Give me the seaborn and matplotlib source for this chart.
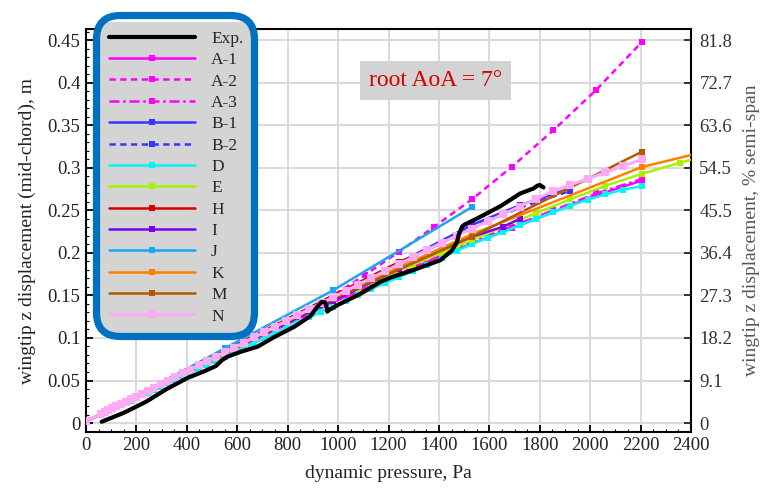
import matplotlib
matplotlib.use("Agg")
import matplotlib.pyplot as plt
import seaborn as sns
from matplotlib.patches import FancyBboxPatch
from matplotlib.ticker import MultipleLocator

# ---------------- data ----------------
q_grid = [0, 61, 74, 88, 104, 120, 138, 157, 177, 198, 221, 245, 270, 296, 324, 353, 383,
          414, 447, 480, 515, 551, 589, 627, 667, 708, 751, 794, 839, 885, 932, 980, 1030,
          1080, 1132, 1185, 1240, 1296, 1353, 1411, 1471, 1531, 1593, 1656, 1720, 1786,
          1853, 1921, 1990, 2060, 2132, 2205]

exp_q = [62, 150, 238, 320, 403, 470, 515, 540, 561, 614, 680, 746, 825, 891, 918, 935,
         948, 955, 957, 965, 1000, 1089, 1168, 1208, 1300, 1406, 1452, 1472, 1478, 1485,
         1492, 1500, 1564, 1644, 1723, 1775, 1790, 1800, 1815]
exp_z = [0.0015, 0.012, 0.025, 0.040, 0.053, 0.061, 0.067, 0.074, 0.078, 0.0838, 0.0897,
         0.101, 0.113, 0.126, 0.137, 0.1425, 0.142, 0.136, 0.131, 0.133, 0.139, 0.152,
         0.166, 0.171, 0.180, 0.1915, 0.203, 0.213, 0.221, 0.226, 0.231, 0.233, 0.2425,
         0.255, 0.270, 0.2758, 0.279, 0.280, 0.277]

a1_q = [0, 245, 551, 980, 1106, 1240, 1382, 1531, 1688, 1853, 2025, 2205]
a1_z = [0.002, 0.037, 0.081, 0.142, 0.158, 0.175, 0.193, 0.211, 0.229, 0.248, 0.268, 0.285]
a2_q = [0, 245, 551, 794, 980, 1106, 1240, 1382, 1531, 1688, 1853, 2025, 2205]
a2_z = [0.002, 0.038, 0.083, 0.121, 0.150, 0.174, 0.201, 0.231, 0.263, 0.301, 0.344, 0.392, 0.448]
a3_q = [0, 245, 551, 980, 1106, 1240, 1382, 1531, 1688, 1853, 2025, 2205]
a3_z = [0.002, 0.037, 0.082, 0.143, 0.160, 0.177, 0.195, 0.213, 0.231, 0.250, 0.270, 0.287]
b1_q = [0, 245, 551, 980, 1240, 1531, 1720, 1921]
b1_z = [0.002, 0.038, 0.084, 0.149, 0.188, 0.233, 0.256, 0.276]
b2_q = [0, 245, 551, 980, 1240, 1531, 1720, 1921]
b2_z = [0.002, 0.037, 0.083, 0.147, 0.186, 0.230, 0.253, 0.273]
d_z = [0.002, 0.0104, 0.0122, 0.0141, 0.0164, 0.0186, 0.021, 0.0237, 0.0264, 0.0293,
       0.0325, 0.0358, 0.0393, 0.0428, 0.0467, 0.0507, 0.0549, 0.0591, 0.0637, 0.0682,
       0.0731, 0.078, 0.0833, 0.0885, 0.094, 0.0997, 0.1056, 0.1116, 0.1178, 0.1241,
       0.1306, 0.137, 0.1437, 0.1505, 0.1576, 0.1645, 0.1713, 0.1783, 0.186, 0.194,
       0.2025, 0.2105, 0.2177, 0.2248, 0.2325, 0.2403, 0.248, 0.2555, 0.2628, 0.2688,
       0.2745, 0.2785]
e_q = [0, 245, 551, 980, 1080, 1185, 1296, 1411, 1531, 1656, 1786, 1921, 2060, 2205, 2355, 2509]
e_z = [0.002, 0.037, 0.081, 0.145, 0.158, 0.172, 0.186, 0.200, 0.215, 0.231, 0.247, 0.263,
       0.279, 0.293, 0.306, 0.318]
h_q = [0, 245, 551, 980, 1240, 1296]
h_z = [0.002, 0.039, 0.085, 0.150, 0.189, 0.196]
i_q = [0, 245, 551, 980, 1240, 1531, 1656, 1720]
i_z = [0.002, 0.037, 0.082, 0.144, 0.181, 0.219, 0.231, 0.240]
j_q = [0, 245, 551, 980, 1531]
j_z = [0.002, 0.039, 0.088, 0.156, 0.254]
k_q = [0, 245, 551, 980, 1531, 2205, 2509]
k_z = [0.002, 0.038, 0.084, 0.148, 0.222, 0.301, 0.323]
m_q = [0, 245, 551, 980, 1531, 2205]
m_z = [0.002, 0.038, 0.083, 0.146, 0.219, 0.319]
n_z = [0.002, 0.011, 0.0129, 0.0149, 0.0173, 0.0196, 0.0223, 0.0251, 0.028, 0.0311,
       0.0345, 0.038, 0.0417, 0.0455, 0.0496, 0.0539, 0.0583, 0.0629, 0.0677, 0.0726,
       0.0777, 0.083, 0.0888, 0.0945, 0.1006, 0.1068, 0.1133, 0.1198, 0.1266, 0.1336,
       0.1407, 0.148, 0.1554, 0.1628, 0.1706, 0.1784, 0.1866, 0.1949, 0.2034, 0.212,
       0.2203, 0.2285, 0.237, 0.2456, 0.2545, 0.2636, 0.2727, 0.280, 0.2873, 0.2947,
       0.3023, 0.310]

x_ticks = [0, 200, 400, 600, 800, 1000, 1200, 1400, 1600, 1800, 2000, 2200, 2400]
y_ticks = [0, 0.05, 0.1, 0.15, 0.2, 0.25, 0.3, 0.35, 0.4, 0.45]
y_labels = ["0", "0.05", "0.1", "0.15", "0.2", "0.25", "0.3", "0.35", "0.4", "0.45"]
y2_labels = ["0", "9.1", "18.2", "27.3", "36.4", "45.5", "54.5", "63.6", "72.7", "81.8"]

# ---------------- style ----------------
sns.set_theme(style="white")
plt.rcParams['font.family'] = ['Liberation Serif', 'DejaVu Serif']
plt.rcParams['axes.unicode_minus'] = False

W, H = 771, 488
fig = plt.figure(figsize=(W / 100, H / 100), dpi=100)
ax = fig.add_axes([86 / W, 1 - 431.7 / H, (691 - 86) / W, (431.7 - 29.3) / H])

dash = (0, (2.5, 1.8))
dashdot = (0, (4, 1.5, 1, 1.5))
series = [
    ("A-1", a1_q, a1_z, "#ff00ff", "-", 1.8, 4.6),
    ("A-2", a2_q, a2_z, "#ff00ff", dash, 1.8, 4.6),
    ("A-3", a3_q, a3_z, "#ff00ff", dashdot, 1.8, 4.6),
    ("B-1", b1_q, b1_z, "#3535ff", "-", 1.8, 4.6),
    ("B-2", b2_q, b2_z, "#3535ff", dash, 1.8, 4.6),
    ("D", q_grid, d_z, "#00f5f5", "-", 1.8, 4.8),
    ("E", e_q, e_z, "#a6f000", "-", 1.8, 4.6),
    ("H", h_q, h_z, "#d40000", "-", 1.8, 4.6),
    ("I", i_q, i_z, "#7a00f0", "-", 1.8, 4.6),
    ("J", j_q, j_z, "#19a6f2", "-", 1.8, 4.6),
    ("K", k_q, k_z, "#ff8000", "-", 1.8, 4.6),
    ("M", m_q, m_z, "#b35a00", "-", 1.8, 4.6),
    ("N", q_grid, n_z, "#ffaaf5", "-", 2.2, 5.4),
]

for name, q, z, col, ls, lw, ms in series:
    sns.lineplot(x=q, y=z, ax=ax, color=col, linestyle=ls, linewidth=lw,
                 marker="s", markersize=ms, markeredgewidth=0, sort=False,
                 estimator=None, label=name, zorder=3)

sns.lineplot(x=exp_q, y=exp_z, ax=ax, color="black", linewidth=3.0, sort=False,
             estimator=None, label="Exp.", zorder=4)

ax.set_xlim(0, 2400)
ax.set_ylim(-0.0102, 0.463)
ax.set_xticks(x_ticks)
ax.set_xticklabels([str(t) for t in x_ticks])
ax.set_yticks(y_ticks)
ax.set_yticklabels(y_labels)
ax.xaxis.set_minor_locator(MultipleLocator(50))
ax.yaxis.set_minor_locator(MultipleLocator(0.01))
ax.grid(True, which="major", color="#d9d9d9", linewidth=1.4)
ax.set_axisbelow(True)
for s in ax.spines.values():
    s.set_color("black")
    s.set_linewidth(1.5)
ax.tick_params(which="major", direction="in", length=5, width=1.3, labelsize=13.5,
               colors="black", labelcolor="#222222", pad=4)
ax.tick_params(which="minor", direction="in", length=2.5, width=0.8, colors="black")
ax.tick_params(axis="x", which="both", bottom=True, top=False)
ax.tick_params(axis="y", which="both", left=True, right=False)

ax.set_xlabel("dynamic pressure, Pa", fontsize=14, color="#222222", labelpad=8)
ax.set_ylabel("wingtip z displacement (mid-chord), m", fontsize=14, color="#222222",
              labelpad=8)

ax2 = ax.twinx()
ax2.set_ylim(ax.get_ylim())
ax2.set_yticks(y_ticks)
ax2.set_yticklabels(y2_labels)
ax2.tick_params(axis="y", direction="in", length=5, width=1.3, labelsize=13.5,
                labelcolor="#333333", pad=6)
ax2.grid(False)
for s in ax2.spines.values():
    s.set_visible(False)
ax2.set_ylabel("wingtip z displacement, % semi-span", fontsize=14, color="#555555",
               labelpad=8)

ax.text(1386, 0.403, "root AoA = 7°", ha="center", va="center", fontsize=17,
        color="#d40000", zorder=6,
        bbox=dict(boxstyle="square,pad=0.38", facecolor="#d3d3d3", edgecolor="none"))

handles, labels = ax.get_legend_handles_labels()
order = ["Exp.", "A-1", "A-2", "A-3", "B-1", "B-2", "D", "E", "H", "I", "J", "K", "M", "N"]
hmap = dict(zip(labels, handles))
leg = ax.legend([hmap[o] for o in order], order, loc="upper left",
                bbox_to_anchor=(100 / W, 1 - 22 / H), bbox_transform=fig.transFigure,
                borderaxespad=0, fontsize=12.5, labelspacing=0.3, handlelength=5.0,
                handletextpad=0.9, borderpad=0.5, frameon=True, fancybox=False,
                facecolor="#d4d4d4", edgecolor="none", framealpha=1)
leg.set_zorder(7)

# blue rounded highlight frame around legend (pixel coordinates -> inches)
frame = FancyBboxPatch((96.5 / 100, (H - 336.5) / 100), (254.5 - 96.5) / 100,
                       (336.5 - 15.5) / 100,
                       boxstyle="round,pad=0,rounding_size=0.24",
                       transform=fig.dpi_scale_trans, facecolor="none",
                       edgecolor="#0070c0", linewidth=5.2, zorder=10)
fig.add_artist(frame)

fig.savefig("out.png", dpi=100)
